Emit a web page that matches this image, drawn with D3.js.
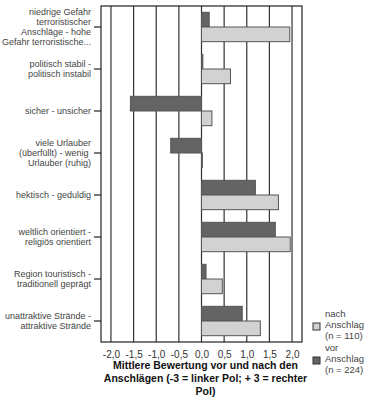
<!DOCTYPE html>
<html>
<head>
<meta charset="utf-8">
<script src="https://cdn.jsdelivr.net/npm/d3@7"></script>
<style>
  body { margin: 0; background: #fff; }
  text { font-family: "Liberation Sans", Arial, sans-serif; }
</style>
</head>
<body>
<div id="chart"></div>
<script>
// categories (line breaks as in the original labels)
const categories = [
    "niedrige Gefahr\nterroristischer\nAnschläge - hohe\nGefahr terroristische...",
    "politisch stabil -\npolitisch instabil",
    "sicher - unsicher",
    "viele Urlauber\n(überfüllt) - wenig \nUrlauber (ruhig)",
    "hektisch - geduldig",
    "weltlich orientiert -\nreligiös orientiert",
    "Region touristisch -\ntraditionell geprägt",
    "unattraktive Strände -\nattraktive Strände"
];
const series = ["vor", "nach"];
const vorValues = [0.17, 0.03, -1.57, -0.68, 1.19, 1.63, 0.10, 0.90];
const nachValues = [1.95, 0.64, 0.23, 0.02, 1.70, 1.96, 0.46, 1.30];
const xTicks = [-2.0, -1.5, -1.0, -0.5, 0.0, 0.5, 1.0, 1.5, 2.0];
const legendItems = [
    { key: "nach", lines: ["nach", "Anschlag", "(n = 110)"] },
    { key: "vor", lines: ["vor", "Anschlag", "(n = 224)"] }
];
const xTitle = ["Mittlere Bewertung vor und nach den", "Anschlägen (-3 = linker Pol; + 3 = rechter", "Pol)"];

const W = 370, H = 400;
const margin = { top: 6, right: 68, bottom: 58, left: 101 };
const width = W - margin.left - margin.right;
const height = H - margin.top - margin.bottom;

const color = d3.scaleOrdinal().domain(series).range(["#646464", "#d2d2d2"]);

const svg = d3.select("#chart").append("svg")
    .attr("width", W)
    .attr("height", H);

const chart = svg.append("g")
    .attr("transform", `translate(${margin.left}, ${margin.top})`);

const x = d3.scaleLinear().domain([-2.22, 2.22]).range([0, width]);
const y0 = d3.scaleBand().domain(categories).range([0, height]);
const y1 = d3.scaleBand().domain(series).range([0, y0.bandwidth()]).paddingOuter(0.43);

// gridlines
chart.selectAll("line.grid")
    .data(xTicks)
    .enter()
    .append("line")
    .attr("class", "grid")
    .attr("x1", d => x(d)).attr("x2", d => x(d))
    .attr("y1", 0).attr("y2", height)
    .attr("stroke", "#333")
    .attr("stroke-width", 1.2);

// bars
const rows = categories.map((c, i) => ({ cat: c, vor: vorValues[i], nach: nachValues[i] }));
const groups = chart.selectAll("g.row")
    .data(rows)
    .enter()
    .append("g")
    .attr("class", "row")
    .attr("transform", d => `translate(0, ${y0(d.cat)})`);

groups.selectAll("rect")
    .data(d => series.map(s => ({ key: s, value: d[s] })))
    .enter()
    .append("rect")
    .attr("x", d => x(Math.min(0, d.value)))
    .attr("y", d => y1(d.key))
    .attr("width", d => Math.abs(x(d.value) - x(0)))
    .attr("height", y1.bandwidth())
    .attr("fill", d => color(d.key))
    .attr("stroke", "#555")
    .attr("stroke-width", 1);

// frame
chart.append("rect")
    .attr("width", width).attr("height", height)
    .attr("fill", "none")
    .attr("stroke", "#222")
    .attr("stroke-width", 1.2);

// x axis
const fmt = d => d3.format(".1f")(d).replace("−", "-").replace(".", ",");
const xAxis = chart.append("g")
    .attr("transform", `translate(0, ${height})`)
    .call(d3.axisBottom(x).tickValues(xTicks).tickSize(0).tickPadding(9).tickFormat(fmt));
xAxis.select(".domain").remove();
xAxis.selectAll("text")
    .attr("font-size", "10px")
    .attr("fill", "#333");

// y axis with wrapped labels
const yAxis = chart.append("g")
    .call(d3.axisLeft(y0).tickSize(7).tickPadding(3).tickFormat(""));
yAxis.select(".domain").remove();
yAxis.selectAll(".tick line").attr("stroke", "#222").attr("stroke-width", 1.2);
yAxis.selectAll(".tick")
    .append("text")
    .attr("x", -10)
    .attr("text-anchor", "end")
    .attr("font-size", "9px")
    .attr("fill", "#444")
    .each(function(d) {
        const lines = d.split("\n");
        const lh = 9.8;
        const start = -((lines.length - 1) * lh) / 2 + 3;
        d3.select(this).selectAll("tspan")
            .data(lines)
            .enter()
            .append("tspan")
            .attr("x", -10)
            .attr("y", (l, i) => start + i * lh)
            .text(l => l);
    });

// x title
chart.append("text")
    .attr("text-anchor", "middle")
    .attr("font-size", "10.5px")
    .attr("font-weight", "bold")
    .attr("fill", "#111")
    .selectAll("tspan")
    .data(xTitle)
    .enter()
    .append("tspan")
    .attr("x", x(0) + 4)
    .attr("y", (d, i) => height + 27 + i * 13)
    .text(d => d);

// legend
const legend = svg.append("g").attr("transform", "translate(313, 310)");
const item = legend.selectAll("g")
    .data(legendItems)
    .enter()
    .append("g")
    .attr("transform", (d, i) => `translate(0, ${i * 34})`);
item.append("rect")
    .attr("x", 0).attr("y", 13)
    .attr("width", 7).attr("height", 7)
    .attr("fill", d => color(d.key))
    .attr("stroke", "#333");
item.append("text")
    .attr("font-size", "9.5px")
    .attr("fill", "#444")
    .selectAll("tspan")
    .data(d => d.lines)
    .enter()
    .append("tspan")
    .attr("x", 12)
    .attr("y", (d, i) => 7 + i * 11)
    .text(d => d);
</script>
</body>
</html>
